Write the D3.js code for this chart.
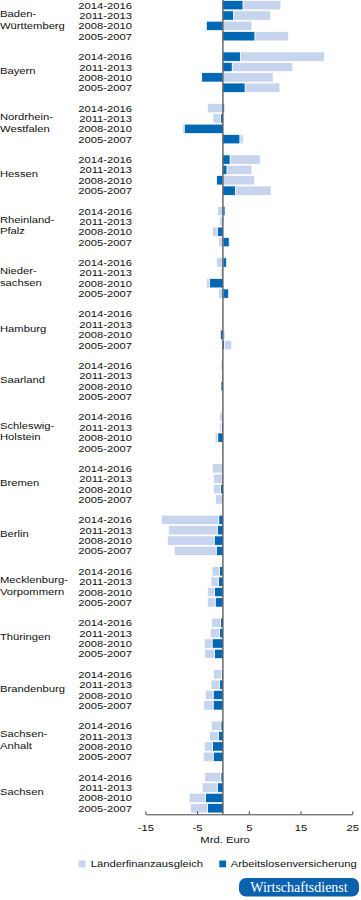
<!DOCTYPE html>
<html><head><meta charset="utf-8">
<script src="https://cdn.jsdelivr.net/npm/d3@7"></script>
<style>html,body{margin:0;padding:0;background:#fff;}svg{display:block;}</style>
</head><body>
<svg id="c" width="361" height="900"></svg>
<script>
const states = ["Baden-Württemberg","Bayern","Nordrhein-Westfalen","Hessen","Rheinland-Pfalz","Niedersachsen","Hamburg","Saarland","Schleswig-Holstein","Bremen","Berlin","Mecklenburg-Vorpommern","Thüringen","Brandenburg","Sachsen-Anhalt","Sachsen"];
const stateLabels = [["Baden-","Württemberg"],["Bayern"],["Nordrhein-","Westfalen"],["Hessen"],["Rheinland-","Pfalz"],["Nieder-","sachsen"],["Hamburg"],["Saarland"],["Schleswig-","Holstein"],["Bremen"],["Berlin"],["Mecklenburg-","Vorpommern"],["Thüringen"],["Brandenburg"],["Sachsen-","Anhalt"],["Sachsen"]];
const periods = ["2014-2016","2011-2013","2008-2010","2005-2007"];
const seriesNames = ["Länderfinanzausgleich","Arbeitslosenversicherung"];
// Arbeitslosenversicherung (dark), per state, periods in order above
const alv = [
  [3.9, 2.1, -3.2, 6.2],
  [3.4, 1.8, -4.1, 4.3],
  [0.3, -0.5, -7.5, 3.3],
  [1.4, 0.8, -1.2, 2.4],
  [0.4, 0.1, -1.1, 1.2],
  [0.7, 0.0, -2.6, 1.1],
  [0.0, 0.0, -0.5, 0.3],
  [0.0, 0.0, -0.4, 0.0],
  [-0.1, -0.3, -1.0, 0.0],
  [0.0, 0.0, -0.5, 0.0],
  [-0.8, -1.1, -1.7, -1.3],
  [-0.7, -0.9, -1.6, -1.5],
  [-0.5, -0.7, -2.1, -1.6],
  [-0.3, -0.7, -1.9, -1.9],
  [-0.4, -0.9, -2.0, -1.9],
  [-0.4, -1.1, -3.4, -3.0]
];
// Länderfinanzausgleich (light)
const lfa = [
  [7.3, 7.1, 5.6, 6.5],
  [16.2, 11.7, 9.7, 6.7],
  [-3.0, -1.4, -0.3, 0.6],
  [5.8, 4.8, 6.1, 6.9],
  [-1.0, -0.6, -0.9, -0.8],
  [-1.2, -0.4, -0.6, -0.8],
  [0.05, 0.05, 0.4, 1.4],
  [-0.4, -0.2, -0.1, -0.2],
  [-0.5, -0.3, -0.5, -0.2],
  [-2.0, -1.8, -1.3, -1.4],
  [-11.1, -9.4, -9.0, -8.1],
  [-1.4, -1.4, -1.4, -1.5],
  [-1.7, -1.7, -1.5, -1.9],
  [-1.5, -1.6, -1.5, -1.8],
  [-1.8, -1.7, -1.6, -1.9],
  [-3.1, -2.9, -3.1, -3.3]
];
const xTicks = [-15, -5, 5, 15, 25];
const axisTitle = "Mrd. Euro";
const badge = "Wirtschaftsdienst";

const DARK = "#0068b5", LIGHT = "#c6d4ee", AX = "#444";
const FONT = "'Liberation Sans', Arial, sans-serif";
const FS = 9.6, SX = 1.17;

const svg = d3.select("#c");
const x = d3.scaleLinear().domain([-15, 25]).range([145.3, 352.3]);
const yState = d3.scaleBand().domain(states).range([0.5, 812.95]).paddingInner(0.215).paddingOuter(0);
const yPer = d3.scaleBand().domain(periods).range([0, yState.bandwidth()]).paddingInner(0.1).paddingOuter(0);

function txt(g, s, px, py, anchor, extra) {
  const t = g.append("text")
    .attr("transform", `translate(${px},${py}) scale(${SX},1)`)
    .attr("text-anchor", anchor || "start")
    .attr("dominant-baseline", "central")
    .style("font-family", FONT).style("font-size", FS + "px").attr("fill", "#111")
    .text(s);
  return t;
}

// rows data with diverging stack (dark first near zero)
const rows = [];
states.forEach((s, i) => periods.forEach((p, j) => {
  const a = alv[i][j], l = lfa[i][j];
  let pos = 0, neg = 0;
  const segs = [];
  [[a, DARK], [l, LIGHT]].forEach(([v, c]) => {
    if (v >= 0) { segs.push({x0: pos, x1: pos + v, c}); pos += v; }
    else { segs.push({x0: neg + v, x1: neg, c}); neg += v; }
  });
  rows.push({s, p, segs});
}));

const gBars = svg.append("g");
rows.forEach(r => {
  const y0 = yState(r.s) + yPer(r.p);
  r.segs.forEach(sg => {
    if (sg.x1 - sg.x0 <= 0) return;
    gBars.append("rect")
      .attr("x", x(sg.x0)).attr("width", x(sg.x1) - x(sg.x0))
      .attr("y", y0).attr("height", yPer.bandwidth())
      .attr("fill", sg.c).attr("stroke", "#fff").attr("stroke-width", 0.7);
  });
});

// period labels
const gLab = svg.append("g");
rows.forEach(r => {
  txt(gLab, r.p, 132, yState(r.s) + yPer(r.p) + yPer.bandwidth() / 2 + 0.3, "end");
});
// state labels
states.forEach((s, i) => {
  const c = yState(s) + yState.bandwidth() / 2;
  const lines = stateLabels[i];
  const lh = 11.7;
  lines.forEach((ln, k) => {
    txt(gLab, ln, 0, c - 1.2 + (k - (lines.length - 1) / 2) * lh, "start");
  });
});

// zero line
svg.append("line").attr("x1", x(0)).attr("x2", x(0)).attr("y1", 0).attr("y2", 814.3)
  .attr("stroke", AX).attr("stroke-width", 1.2);

// axis
const ax = svg.append("g").attr("transform", "translate(0,814.3)")
  .call(d3.axisBottom(x).tickValues(xTicks).tickSizeInner(-3).tickSizeOuter(0).tickFormat(d3.format("d")));
ax.select(".domain").attr("stroke", AX).attr("stroke-width", 1);
ax.selectAll(".tick line").attr("stroke", AX);
ax.selectAll(".tick text")
  .attr("y", null).attr("dy", null)
  .attr("transform", `translate(0,13.4) scale(${SX},1)`)
  .attr("dominant-baseline", "central")
  .style("font-family", FONT).style("font-size", FS + "px").attr("fill", "#111")
  .text(d => d < 0 ? "-" + Math.abs(d) : d);
txt(svg, axisTitle, 225, 840, "middle");

// legend
const lg = svg.append("g");
const legX = [[78.7, 90.7], [219.3, 230.7]];
seriesNames.forEach((n, i) => {
  lg.append("rect").attr("x", legX[i][0]).attr("y", 860.5).attr("width", 6.8).attr("height", 6.8)
    .attr("fill", i === 0 ? LIGHT : DARK);
  txt(lg, n, legX[i][1], 864, "start");
});

// badge
svg.append("rect").attr("x", 239).attr("y", 878).attr("width", 120).attr("height", 18.5)
  .attr("rx", 7).attr("fill", "#0a62ae");
svg.append("text").attr("x", 299).attr("y", 887.5).attr("text-anchor", "middle")
  .attr("dominant-baseline", "central")
  .style("font-family", "'Liberation Serif', 'DejaVu Serif', serif").style("font-size", "14px")
  .attr("fill", "#fff").text(badge);
</script>
</body></html>
